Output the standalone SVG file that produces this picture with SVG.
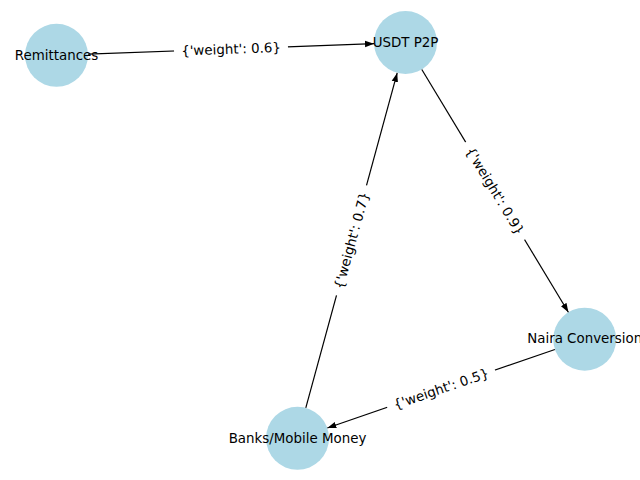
<svg xmlns="http://www.w3.org/2000/svg" width="640" height="480" viewBox="0 0 640 480">
<style>
.node{fill:#ADD8E6}
.nl{font-family:"DejaVu Sans",sans-serif;font-size:13.4px;fill:#000;text-anchor:middle}
.edge{stroke:#000;stroke-width:1.2;fill:none;marker-end:url(#ah)}
.lb{fill:#fff}
.el{font-family:"DejaVu Sans",sans-serif;font-size:13.4px;fill:#000;text-anchor:middle}
</style>
<defs>
<marker id="ah" markerUnits="userSpaceOnUse" markerWidth="10" markerHeight="8" viewBox="0 -4 10 8" refX="9" refY="0" orient="auto">
<path d="M0,-3.2 L9,0 L0,3.2 Z" fill="#000"/>
</marker>
</defs>
<rect width="640" height="480" fill="#fff"/>
<g id="nodes">
<g id="n-remittances"><circle class="node" cx="56.5" cy="55.3" r="31.5"/></g>
<g id="n-usdt"><circle class="node" cx="405.5" cy="42.5" r="31.5"/></g>
<g id="n-naira"><circle class="node" cx="584.7" cy="339.2" r="31.5"/></g>
<g id="n-banks"><circle class="node" cx="297.5" cy="438.3" r="31.5"/></g>
</g>
<g id="edges">
<line class="edge" x1="88" y1="54.1" x2="374" y2="43.7"/>
<line class="edge" x1="421.8" y1="69.5" x2="568.4" y2="312.2"/>
<line class="edge" x1="554.9" y1="349.5" x2="327.3" y2="428"/>
<line class="edge" x1="305.8" y1="407.9" x2="397.2" y2="72.9"/>
</g>
<g id="edge-labels">
<g transform="translate(231,48.9) rotate(-2.1)"><rect class="lb" x="-57" y="-10" width="114" height="20" rx="3"/><text class="el" y="4.8">{'weight': 0.6}</text></g>
<g transform="translate(495.1,190.85) rotate(58.9)"><rect class="lb" x="-57" y="-10" width="114" height="20" rx="3"/><text class="el" y="4.8">{'weight': 0.9}</text></g>
<g transform="translate(441.1,388.75) rotate(-19)"><rect class="lb" x="-57" y="-10" width="114" height="20" rx="3"/><text class="el" y="4.8">{'weight': 0.5}</text></g>
<g transform="translate(351.5,240.4) rotate(-74.7)"><rect class="lb" x="-57" y="-10" width="114" height="20" rx="3"/><text class="el" y="4.8">{'weight': 0.7}</text></g>
</g>
<g id="node-labels">
<text class="nl" x="56.5" y="59.5">Remittances</text>
<text class="nl" x="405.5" y="46.7">USDT P2P</text>
<text class="nl" x="584.7" y="343.4">Naira Conversion</text>
<text class="nl" x="297.5" y="442.5">Banks/Mobile Money</text>
</g>
</svg>
